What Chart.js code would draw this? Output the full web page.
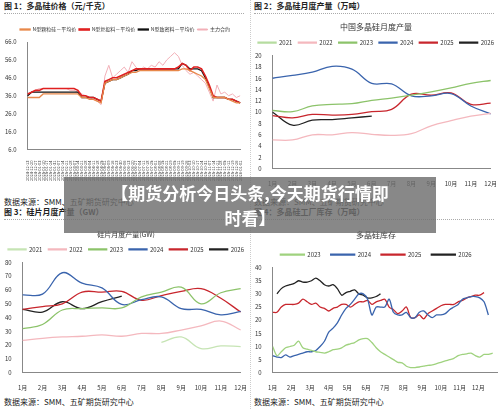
<!DOCTYPE html>
<html><head><meta charset="utf-8">
<script src="https://cdn.jsdelivr.net/npm/chart.js@4"></script>
<style>
body{margin:0;width:500px;height:409px;background:#fff;position:relative;overflow:hidden;font-family:"Noto Sans CJK SC",sans-serif}
.hd{position:absolute;font-size:8px;font-weight:bold;color:#222;border-bottom:1px dotted #aaa;width:240px;padding-bottom:2px}
.src{position:absolute;font-size:8px;color:#222}
.cv{position:absolute}
#banner{position:absolute;left:64px;top:177px;width:372px;height:56px;background:rgba(110,110,110,0.82);color:#fff;font-weight:bold;font-size:17px;text-align:center;line-height:25px;padding-top:3px;box-sizing:border-box}
</style></head><body>
<div class="hd" style="left:4px;top:0px">图 1：多晶硅价格（元/千克）</div>
<div class="hd" style="left:254px;top:0px">图 2：多晶硅月度产量（万吨）</div>
<div class="hd" style="left:4px;top:206px">图 3：硅片月度产量（GW）</div>
<div class="hd" style="left:254px;top:206px">图 4：多晶硅工厂库存（万吨）</div>
<div class="src" style="left:4px;top:196px">数据来源：SMM、五矿期货研究中心</div>
<div class="src" style="left:254px;top:196px">数据来源：SMM、五矿期货研究中心</div>
<div class="src" style="left:4px;top:396px">数据来源：SMM、五矿期货研究中心</div>
<div class="src" style="left:254px;top:396px">数据来源：SMM、五矿期货研究中心</div>
<div style="position:absolute;left:250px;top:0;width:0;height:409px;border-left:1px dotted #ccc"></div>
<div class="cv" style="left:2px;top:24px;width:246px;height:160px"><canvas id="c1"></canvas></div>
<div class="cv" style="left:252px;top:20px;width:248px;height:170px"><canvas id="c2"></canvas></div>
<div class="cv" style="left:2px;top:228px;width:248px;height:166px"><canvas id="c3"></canvas></div>
<div class="cv" style="left:252px;top:228px;width:248px;height:166px"><canvas id="c4"></canvas></div>
<div id="banner">【期货分析今日头条,今天期货行情即<br>时看】</div>
<script>
// chart 1: prices, weekly
const dates1 = [];
for (let i = 0; i < 56; i++) { const d = new Date(2024, 11, 13 + i * 7); dates1.push(d.getFullYear() + '-' + String(d.getMonth() + 1).padStart(2, '0') + '-' + String(d.getDate()).padStart(2, '0')); }
const granular = [35,35,35,35,37,37,37,37,37,37,37,37,37,37,35,35,34,34,33,32,43,44,45,45,46,47,48,49,49,50,50,50,50,50,50,50,50,50,50,50,51,51,50,49,48,47,45,40,35,35,35,35,34,33,32,32];
const reFeed = [37,38,39,39,40,40,40,40,40,40,40,40,40,39,36,36,35,35,34,33,44,45,46,46,47,48,49,50,51,51,51,51,51,51,51,51,51,51,51,52,54,53,50,52,52,51,47,42,36,35,35,35,34,34,33,32];
const dense = [36,38,38,38,38,38,38,38,38,38,38,38,38,38,35,35,35,35,34,33,43,44,45,45,46,47,48,50,50,51,51,51,51,51,51,51,51,51,51,51,54,53,51,51,51,50,46,41,35,35,35,35,34,34,33,32];
const futures = [37,38,39,40,40,40,40,40,40,40,40,39,39,38,37,36,35,34,33,31,47,53,46,48,50,52,49,55,52,50,52,51,53,52,55,53,56,58,60,58,53,50,48,49,47,45,43,38,33,42,37,38,36,37,35,36];

// chart 2: polysilicon monthly output
const months = ['1月','2月','3月','4月','5月','6月','7月','8月','9月','10月','11月','12月'];
const poly2021 = [];
const poly2022 = [5.1,5.1,6.0,6.0,6.4,6.1,5.9,6.2,7.6,8.5,9.3,9.8];
const poly2023 = [10.3,10.1,11.1,11.4,11.5,12.1,12.5,13.0,13.6,14.3,15.1,15.6];
const poly2024 = [16.0,16.5,17.1,18.1,17.6,15.1,15.0,12.9,12.9,13.3,11.1,9.7];
const poly2025 = [9.4,9.0,9.6,9.5,9.6,10.1,10.5,13.2,13.0,13.4,11.4,11.6];
const poly2026 = [10.0,7.7,8.6,8.7,9.0,9.3];

// chart 3: wafer monthly output
const wafer2021 = [null,null,null,null,null,null,null,22,26,17.5,19.5,19];
const wafer2022 = [23.5,25,26,26.5,27.5,26.5,28.5,28.5,31,34,37.5,31];
const wafer2023 = [32,35,45.5,46.5,47,47,55,58.5,62,50,58,61];
const wafer2024 = [56.5,57,72.5,65,61.5,49.5,53,55,46.5,46,42,44.5];
const wafer2025 = [46,48,50,58.5,58.5,59,52.5,56,59,61,54,44];
const wafer2026 = [46,44,51.5,46.5,51.5,55.5];

// chart 4: factory inventory, weekly
const inv2023 = [10,6.5,8,9.5,10,10.5,12,9.5,9,8.5,8,7.8,7.5,8,8.8,9,9.5,10.5,11,11.5,12.5,13,13,11.5,9.5,8,7,6,5,4,3.8,2.5,2,2,2.2,2.5,2.8,3,3.5,4,4.5,5,5.5,6.5,7,7.2,7.5,6.5,6,7,7,7.5];
const inv2024 = [6.5,6,5.8,6.8,6,6.5,7,7.5,8,8,8.5,10,12,15.5,17,19,22,24.5,26,28,30,30,28,22,25,25,25,28,23,22,22,23,21,21,23,23.5,22,21,22,22,22.5,24,25,26,28,28.5,29,29,28.5,27,22];
const inv2025 = [23,23,25,26,26,26,26.5,28,27,26,26.5,25,24.5,23.5,24.5,25,26,26,25,26,27,27,27.5,26,27,27.5,28,25,24,22.5,23.5,25,21,21,22,20.5,22.5,23.5,24.5,25.5,26,26,26,27,27.5,28.5,29,29.5,29.5,30.5];
const inv2026 = [null,30,32,33,33.5,34,35,34.5,34.5,35,36,35,33.5,33,33.5,32,29.5,30.5,31,31.5,30,29.5,28.5,28.5,29,30];

Chart.defaults.font.family = '"Noto Sans CJK SC", sans-serif';
Chart.defaults.font.size = 7;
Chart.defaults.color = '#333';
Chart.defaults.animation = false;
Chart.defaults.maintainAspectRatio = false;
Chart.defaults.elements.point.radius = 0;
Chart.defaults.elements.line.borderWidth = 1.3;

function line(label, data, color, extra) {
    return Object.assign({ label: label, data: data, borderColor: color, backgroundColor: color, tension: 0.4 }, extra || {});
}
function legendOpts(box, pad) {
    return { labels: { boxWidth: box || 18, boxHeight: 1, font: { size: 6 }, padding: pad || 6 } };
}
function axes(min, max, step, extraX) {
    return {
        x: Object.assign({ grid: { display: false }, border: { color: '#888' }, ticks: { font: { size: 6 } } }, extraX || {}),
        y: { min: min, max: max, ticks: { stepSize: step, font: { size: 6 } }, grid: { display: false }, border: { color: '#888' } }
    };
}

new Chart(document.getElementById('c1'), {
    type: 'line',
    data: { labels: dates1, datasets: [
        line('N型颗粒硅－平均价', granular, '#e8884a', { tension: 0 }),
        line('N型复投料－平均价', reFeed, '#e02020', { tension: 0, borderWidth: 1.6 }),
        line('N型致密料－平均价', dense, '#111', { tension: 0 }),
        line('主力合约', futures, '#f2b0b8', { tension: 0, borderWidth: 1 })
    ] },
    options: {
        plugins: { legend: { labels: { boxWidth: 10, boxHeight: 1, font: { size: 5 }, padding: 3 } } },
        scales: (function () {
            const s = axes(6, 66, 10, { ticks: { font: { size: 4 }, autoSkip: false, maxRotation: 90, minRotation: 90 } });
            s.y.ticks.callback = v => v.toFixed(1);
            return s;
        })()
    }
});

new Chart(document.getElementById('c2'), {
    type: 'line',
    data: { labels: months, datasets: [
        line('2021', poly2021, '#b6dca0'),
        line('2022', poly2022, '#f4b8be'),
        line('2023', poly2023, '#8cc36a'),
        line('2024', poly2024, '#3a64ad'),
        line('2025', poly2025, '#c8262d'),
        line('2026', poly2026, '#222')
    ] },
    options: {
        plugins: { title: { display: true, text: '中国多晶硅月度产量', font: { size: 8, weight: 'normal' }, padding: 2 }, legend: legendOpts() },
        scales: axes(0, 20, 2)
    }
});

new Chart(document.getElementById('c3'), {
    type: 'line',
    data: { labels: months, datasets: [
        line('2021', wafer2021, '#c6e4b4'),
        line('2022', wafer2022, '#f4b8be'),
        line('2023', wafer2023, '#8cc36a'),
        line('2024', wafer2024, '#3a64ad'),
        line('2025', wafer2025, '#c8262d'),
        line('2026', wafer2026, '#222')
    ] },
    options: {
        plugins: { title: { display: true, text: '硅片月度产量(GW)', font: { size: 7, weight: 'normal' }, padding: 2 }, legend: legendOpts() },
        scales: axes(0, 80, 10)
    }
});

function weekly(arr) { return arr.map((v, i) => ({ x: i * 12 / 52, y: v })); }
new Chart(document.getElementById('c4'), {
    type: 'line',
    data: { datasets: [
        line('2023', weekly(inv2023), '#9fd27e', { tension: 0.3 }),
        line('2024', weekly(inv2024), '#3a64ad', { tension: 0.3 }),
        line('2025', weekly(inv2025), '#c8262d', { tension: 0.3 }),
        line('2026', weekly(inv2026), '#222', { tension: 0.3 })
    ] },
    options: {
        plugins: { title: { display: true, text: '多晶硅库存', font: { size: 8, weight: 'normal' }, padding: 2 }, legend: legendOpts(24, 10) },
        scales: axes(0, 40, 5, { type: 'linear', min: 0, max: 12, ticks: { stepSize: 1, font: { size: 6 }, callback: v => v < 12 ? (v + 1) + '月' : '' } })
    }
});
</script>
</body></html>
